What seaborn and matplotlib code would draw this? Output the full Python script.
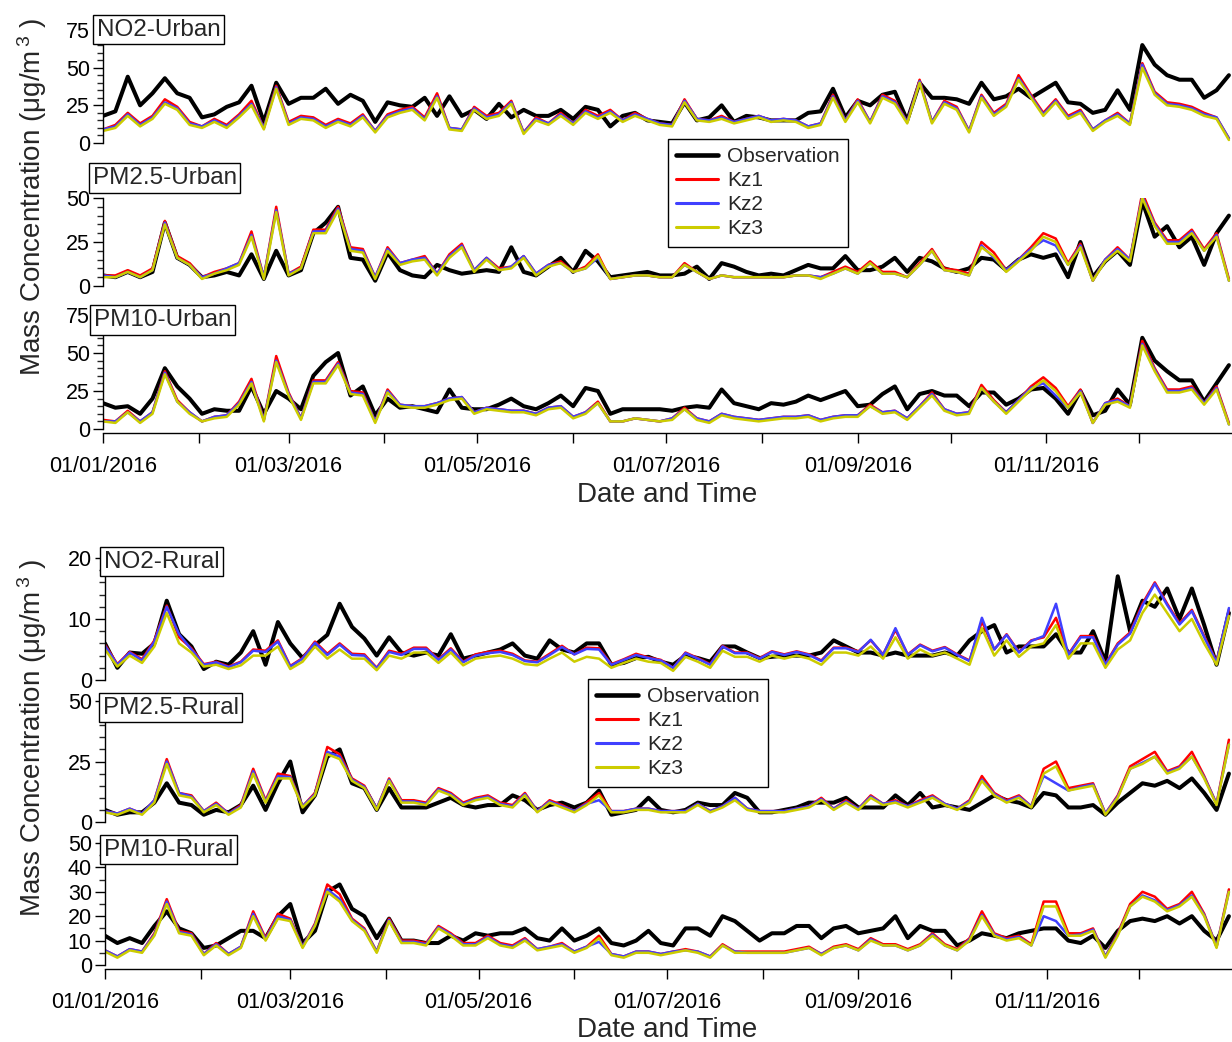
import numpy as np
import pandas as pd
import matplotlib
matplotlib.use("Agg")
import matplotlib.pyplot as plt
import matplotlib.dates as mdates
from matplotlib.ticker import MultipleLocator, FuncFormatter
from matplotlib.lines import Line2D
import seaborn as sns

# 4-daily samples, 01/01/2016 .. 30/12/2016
dates = pd.date_range("2016-01-01", periods=92, freq="4D")

series_names = ["Observation", "Kz1", "Kz2", "Kz3"]
series_colors = ["black", "#ff0000", "#4040ff", "#cccc00"]
series_widths = [2.9, 1.8, 1.8, 1.8]

# ---- Urban ----
no2_urban_obs = [18,21,44,25,33,43,33,30,17,19,24,27,38,14,40,26,30,30,36,26,32,28,14,27,25,24,30,18,31,18,22,16,26,17,22,18,18,22,16,24,22,11,18,20,15,14,
                 13,27,15,17,25,14,18,17,15,15,15,20,21,36,17,28,25,32,34,15,40,30,30,29,26,40,29,31,36,30,35,40,27,26,20,22,35,22,65,52,45,42,42,30,35,45]
no2_urban_kz1 = [9,12,20,13,18,29,24,14,11,16,12,19,28,10,38,14,18,17,12,16,13,19,8,19,22,24,17,33,10,9,24,18,20,28,7,17,13,20,13,22,18,22,15,20,16,13,
                 12,29,16,15,18,14,16,18,15,16,15,11,13,32,15,29,14,32,28,14,42,14,28,24,8,32,20,26,45,32,20,29,18,22,9,15,20,13,53,34,27,26,24,20,17,3]
no2_urban_kz2 = [9,11,19,12,17,27,23,13,11,15,11,18,26,10,37,13,17,16,11,15,12,18,8,18,21,23,16,31,10,9,23,17,19,27,7,16,13,19,13,21,17,21,15,19,16,13,
                 12,28,16,15,17,14,16,18,15,16,15,11,13,31,15,28,14,31,27,14,41,14,27,23,8,31,19,25,43,31,19,28,17,21,9,15,19,13,52,33,26,25,23,19,17,3]
no2_urban_kz3 = [8,10,18,11,16,26,22,12,10,14,10,17,25,9,36,12,16,15,10,14,11,17,7,17,20,22,15,30,9,8,22,16,18,26,6,15,12,18,12,20,16,20,14,18,15,12,
                 11,27,15,14,16,13,15,17,14,15,14,10,12,30,14,27,13,30,26,13,40,13,26,22,7,30,18,24,42,30,18,27,16,20,8,14,18,12,50,32,25,24,22,18,16,2]

pm25_urban_obs = [6,5,8,5,8,36,16,12,5,6,8,6,18,4,20,6,9,30,36,45,16,15,3,19,9,6,5,12,9,7,8,9,8,22,8,6,11,16,8,20,14,5,6,7,8,6,
                  6,7,11,4,13,11,8,6,7,6,9,12,10,10,17,9,9,11,16,8,16,14,10,8,10,16,15,9,15,18,16,18,5,25,5,14,20,12,48,28,34,22,28,12,30,40]
pm25_urban_kz1 = [6,6,9,6,10,37,17,13,5,8,10,13,31,5,45,7,11,32,32,45,22,21,5,22,13,15,17,7,18,24,9,16,10,11,17,7,12,14,8,11,18,4,5,6,6,5,
                  5,13,8,4,6,5,5,5,5,5,6,6,5,8,11,8,14,8,8,5,13,21,10,9,7,25,19,9,15,22,30,27,13,24,3,15,22,15,53,36,26,26,32,21,30,4]
pm25_urban_kz2 = [6,5,8,5,9,36,16,12,5,7,10,13,29,5,43,7,10,31,31,44,21,20,5,21,13,15,16,7,17,23,9,16,9,11,17,7,12,13,8,10,16,4,5,6,6,5,
                  5,12,8,4,6,5,5,5,5,5,6,6,5,7,10,7,13,7,7,5,12,20,9,8,6,23,16,9,15,21,26,23,12,23,3,15,21,15,51,35,25,25,31,20,29,3]
pm25_urban_kz3 = [5,5,8,5,9,35,16,12,4,7,9,12,28,4,42,6,10,30,30,43,20,19,4,20,12,14,15,6,16,22,8,15,9,10,16,6,11,13,8,10,17,4,5,6,6,5,
                  5,12,8,4,6,5,5,5,5,5,6,6,4,7,10,7,13,7,7,5,12,20,9,8,6,22,17,8,14,20,28,25,12,22,3,14,20,14,50,34,24,24,30,20,28,3]

pm10_urban_obs = [17,14,15,10,20,40,28,20,10,13,12,12,28,10,25,20,13,35,44,50,22,28,9,20,14,15,13,11,26,14,13,13,16,20,15,13,17,22,15,27,25,10,13,13,13,13,
                  12,14,15,14,26,17,15,13,17,16,18,22,19,22,25,15,16,23,28,13,23,25,22,22,15,24,24,16,20,26,27,20,10,25,9,12,26,16,60,45,38,32,32,18,30,42]
pm10_urban_kz1 = [6,5,12,5,11,38,19,11,5,8,9,18,33,6,48,24,7,32,32,44,25,24,5,26,16,15,15,17,20,21,11,14,13,12,12,10,14,15,8,11,18,5,5,7,6,5,
                  7,14,7,5,10,8,7,6,7,8,8,9,6,8,9,9,16,11,12,7,15,24,13,10,11,29,19,11,19,28,34,27,15,26,4,17,20,15,58,40,26,26,28,17,28,4]
pm10_urban_kz2 = [5,5,11,5,11,37,18,11,5,8,9,17,31,6,45,23,7,31,31,43,24,23,5,25,16,15,15,17,20,21,11,14,13,12,12,10,14,15,8,11,17,5,5,7,6,5,
                  7,13,7,5,10,8,7,6,7,8,8,9,6,8,9,9,15,11,12,7,15,23,13,10,11,27,18,11,19,27,30,22,14,25,4,17,19,15,56,39,25,25,27,17,27,3]
pm10_urban_kz3 = [5,4,11,4,10,36,18,10,5,7,8,16,30,5,44,22,6,30,30,42,23,22,4,24,15,14,14,16,19,20,10,13,12,11,11,9,13,14,7,10,17,5,5,7,6,5,
                  6,13,6,4,9,7,6,5,6,7,7,8,5,7,8,8,15,10,11,6,14,22,12,9,10,27,18,10,18,26,32,25,14,24,4,16,18,14,55,38,24,24,26,16,26,3]

# ---- Rural ----
no2_rural_obs = [6,2,4.5,4.3,6,13,7.5,5.5,1.8,3,2.5,4.5,8,2.5,9.5,6,3.6,5.7,7.4,12.5,8.7,6.8,4,7,4.5,4,4.5,4,7.5,3.5,4,4.5,5,6,4,3.5,6.5,5,4.5,6,6,2.5,2.8,3.6,3.8,3,
                 2.5,4,3.6,3,5.5,5.5,4.5,3.6,3.8,4,4,4,4.5,6.5,5.5,4.5,4.5,4,4.5,4,4,4,4.5,4,6.5,8,9,4.5,5.5,5.5,5.5,7.5,4.5,4.5,8,3,17,8,13,12,15,10,15,9,2.5,11]
no2_rural_kz1 = [5.8,2.6,4.6,3.4,6.5,12.2,7,5.2,2.6,3,2.2,3,5,4.8,6.5,2.3,3.6,6.3,4.3,6,4.3,4.2,2,4.8,4.3,5.3,5.3,3.4,5.2,3,4.2,4.6,4.8,4.3,3.2,3,4.3,5.6,4.2,5.3,5.2,2.6,3.4,4.3,3.7,3.3,
                 2,4.5,3.6,2.6,5.6,4.5,4.5,3.6,4.7,4.2,4.7,4.2,3.2,5.3,5.3,4.7,6.5,4.2,8.2,4.2,5.8,4.8,5.4,4.2,3.2,9.6,5,7.5,4.6,6.5,7,10.2,4.2,7.2,7.2,2.6,6,7.8,12.5,16,12.5,9.3,11.5,7.2,3,11.5]
no2_rural_kz2 = [5.6,2.5,4.5,3.2,6.3,12,7.5,5,2.5,2.9,2.1,2.9,4.8,4.6,6.3,2.2,3.5,6.1,4.1,5.8,4.1,4,1.9,4.6,4.1,5.1,5.1,3.3,5,2.9,4,4.4,4.6,4.1,3.1,2.9,4.1,5.4,4.2,5.1,5,2.5,3.3,4.1,3.6,3.2,
                 2,4.4,3.5,2.5,5.5,4.4,4.4,3.5,4.6,4.1,4.6,4.1,3.1,5.2,5.2,4.6,6.6,4.1,8.5,4.1,5.7,4.7,5.3,4.1,3.1,10.2,5,7.4,4.5,6.4,7.2,12.5,4.1,7,7,2.5,5.8,7.6,12.2,15.8,12.3,9.1,11.3,7,2.9,11.8]
no2_rural_kz3 = [5,2.2,4,2.8,5.5,11,6,4.5,2.2,2.5,1.8,2.4,4,4,5.5,1.8,3,5.5,3.5,5,3.5,3.5,1.6,4,3.5,4.5,4.5,2.8,4.5,2.4,3.5,3.8,4,3.5,2.6,2.4,3.5,4.5,3,3.8,3.5,2,2.8,3.5,3,2.8,
                 1.5,3.8,3,2,4.8,3.8,3.8,3,4,3.5,4,3.5,2.5,4.5,4.5,4,5.5,3.5,7,3.5,5,4,4.5,3.5,2.5,8.5,4,6.5,3.8,5.5,6,9,3.5,6,6,2,5,6.5,11,14,11,8,10,6,2.5,10.5]

pm25_rural_obs = [5,3,4,4,8,16,8,7,3,5,4,7,15,5,16,25,4,11,27,30,16,14,5,14,6,6,6,8,10,7,6,7,7,11,9,5,7,8,6,8,13,3,4,5,10,5,
                  4,5,8,7,7,12,10,4,4,5,6,8,8,8,10,6,6,6,11,7,12,6,7,6,5,8,11,9,8,6,12,11,6,6,7,3,8,12,16,15,17,14,18,12,5,20]
pm25_rural_kz1 = [4.5,3.5,5.5,3.5,9,26,12,11,4.5,8,3.5,7,22,9,20,19,6.5,12,31,28,18,15,5.5,18,9,9,8,14,12,8,10,11,8,7,12,4.5,9,7,4.5,8,12,4.5,4.5,5.5,5.5,4.5,
                  4.5,4.5,7.5,4.5,6.5,10,5.5,4.5,4.5,4.5,5.5,6.5,10,5.5,9,5.5,11,7.5,9,6.5,9,11,7.5,5.5,9,19,12,9,11,6.5,22,25,14,15,16,3.5,11,23,26,29,21,23,29,19,7.5,34]
pm25_rural_kz2 = [4.5,3.5,5.5,3.5,9,25,12,10.5,4.5,7.5,3.5,6.5,21,8.5,19,18.5,6.5,11.5,29,27,17.5,14.5,5.5,17.5,8.5,8.5,7.5,13.5,11.5,7.5,9.5,10.5,7.5,6.5,11.5,4.5,8.5,6.5,4.5,7.5,9,4.5,4.5,5.5,5.5,4.5,
                  4.5,4.5,7.5,4.5,6.5,10,5.5,4.5,4.5,4.5,5.5,6.5,9.5,5.5,8.5,5.5,10.5,7.5,8.5,6.5,8.5,10.5,7.5,5.5,8.5,17.5,11.5,8.5,10.5,6.5,19,16,13,14.5,15.5,3.5,10.5,22,24.5,27,20.5,22.5,27,18.5,7.5,32]
pm25_rural_kz3 = [4,3,5,3,8,24,11,10,4,7,3,6,20,8,18,18,6,11,28,26,17,14,5,17,8,8,7,13,11,7,9,10,7,6,11,4,8,6,4,7,11,4,4,5,5,4,
                  4,4,7,4,6,9,5,4,4,4,5,6,9,5,8,5,10,7,8,6,8,10,7,5,8,17,11,8,10,6,20,23,13,14,15,3,10,22,24,27,20,22,27,18,7,32]

pm10_rural_obs = [12,9,11,9,16,22,15,13,7,8,11,14,14,11,20,25,9,14,30,33,23,20,11,19,10,10,9,9,12,10,13,12,13,13,15,11,10,15,10,12,15,9,8,10,14,9,
                  8,15,15,12,20,18,14,10,13,13,16,16,11,15,16,13,14,15,20,11,16,14,14,8,10,13,12,11,13,14,15,15,10,9,12,7,14,18,19,18,20,17,20,14,10,20]
pm10_rural_kz1 = [6,3.5,6.5,5.5,13,27,14,13,4.5,9,4.5,7.5,22,11,21,19,7.5,17,33,29,19,15,5.5,19,10,10,9,16,13,9,9,12,9,8,11,6.5,7.5,9,5.5,7.5,12,4.5,3.5,5.5,5.5,4.5,
                  5.5,6.5,5.5,3.5,8.5,5.5,5.5,5.5,5.5,5.5,6.5,7.5,4.5,7.5,8.5,6.5,11,8.5,8.5,6.5,8.5,13,8.5,6.5,11,22,13,11,12,8.5,26,26,13,13,15,3.5,13,25,30,28,23,25,30,21,7.5,31]
pm10_rural_kz2 = [6,3.5,6.5,5.5,12.5,26,13.5,12.5,4.5,8.5,4.5,7.5,21,10.5,20,18.5,7.5,16.5,31,27,18.5,14.5,5.5,18.5,9.5,9.5,8.5,15.5,12.5,8.5,8.5,11.5,8.5,7.5,10.5,6.5,7.5,8.5,5.5,7.5,9.5,4.5,3.5,5.5,5.5,4.5,
                  5.5,6,5.5,3.5,8,5.5,5,5,5,5,6,7,4.5,7,8,6,10.5,8,8,6,8,12.5,8,6,10.5,20.5,12.5,10.5,11.5,8,20,18,12,12.5,14.5,3.5,12.5,24,28.5,26.5,22.5,24.5,28.5,20.5,7.5,30]
pm10_rural_kz3 = [5.5,3,6,5,12,25,13,12,4,8,4,7,20,10,19,18,7,16,30,26,18,14,5,18,9,9,8,15,12,8,8,11,8,7,10,6,7,8,5,7,11,4,3,5,5,4,
                  5,6,5,3,8,5,5,5,5,5,6,7,4,7,8,6,10,8,8,6,8,12,8,6,10,20,12,10,11,8,24,24,12,12,14,3,12,24,28,26,22,24,28,20,7,30]

panel_labels = ["NO2-Urban", "PM2.5-Urban", "PM10-Urban", "NO2-Rural", "PM2.5-Rural", "PM10-Rural"]
panel_data = [
    [no2_urban_obs, no2_urban_kz1, no2_urban_kz2, no2_urban_kz3],
    [pm25_urban_obs, pm25_urban_kz1, pm25_urban_kz2, pm25_urban_kz3],
    [pm10_urban_obs, pm10_urban_kz1, pm10_urban_kz2, pm10_urban_kz3],
    [no2_rural_obs, no2_rural_kz1, no2_rural_kz2, no2_rural_kz3],
    [pm25_rural_obs, pm25_rural_kz1, pm25_rural_kz2, pm25_rural_kz3],
    [pm10_rural_obs, pm10_rural_kz1, pm10_rural_kz2, pm10_rural_kz3],
]
panel_ymax = [75, 50, 75, 20, 50, 50]
panel_major = [25, 25, 25, 10, 25, 10]
panel_minor = [5, 5, 5, 2, 5, 5]

# layout in pixels: (axis x, y of top value, y of zero)
W, H = 1232, 1042
panel_pos = [(103, 30, 143), (103, 198, 286), (103, 315, 429),
             (105, 558, 680), (105, 701, 822), (105, 843, 965)]
box_pos = [(93, 29.5), (89, 178), (90, 320), (100, 561.5), (99, 707.5), (100, 849.5)]

sns.set_style("ticks")
plt.rcParams["font.family"] = ["Liberation Sans", "DejaVu Sans"]
plt.rcParams["mathtext.fontset"] = "custom"
plt.rcParams["mathtext.rm"] = "Liberation Sans"
plt.rcParams["mathtext.default"] = "regular"

fig = plt.figure(figsize=(W / 100, H / 100), dpi=100)


def month_label(v, pos):
    d = mdates.num2date(v)
    return d.strftime("%d/%m/%Y") if d.month % 2 == 1 else ""


for i in range(6):
    x0, ytop, ybot = panel_pos[i]
    ax = fig.add_axes([x0 / W, 1 - ybot / H, (W - x0) / W, (ybot - ytop) / H])
    ax.patch.set_alpha(0)
    for vals, c, lw in zip(panel_data[i], series_colors, series_widths):
        sns.lineplot(x=dates, y=vals, ax=ax, color=c, linewidth=lw, legend=False)
    ax.set_xlim(pd.Timestamp("2016-01-01"), pd.Timestamp("2016-12-31"))
    ax.set_ylim(0, panel_ymax[i])
    ax.set_xlabel("")
    ax.set_ylabel("")
    ax.yaxis.set_major_locator(MultipleLocator(panel_major[i]))
    ax.yaxis.set_minor_locator(MultipleLocator(panel_minor[i]))
    ax.tick_params(axis="y", which="major", direction="out", length=7.5, width=1.0,
                   labelsize=15.5, pad=2, colors="black")
    ax.tick_params(axis="y", which="minor", direction="out", length=4, width=1.0)
    for s in ["top", "right"]:
        ax.spines[s].set_visible(False)
    ax.spines["left"].set_linewidth(1.0)
    ax.spines["left"].set_color("black")
    if i in (2, 5):
        ax.spines["bottom"].set_position(("outward", 3))
        ax.spines["bottom"].set_linewidth(1.0)
        ax.spines["bottom"].set_color("black")
        ax.xaxis.set_major_locator(mdates.MonthLocator())
        ax.xaxis.set_major_formatter(FuncFormatter(month_label))
        ax.tick_params(axis="x", which="major", direction="out", length=7.5, width=1.0,
                       labelsize=15.5, pad=9, colors="black")
        ax.tick_params(axis="x", which="minor", bottom=False)
    else:
        ax.spines["bottom"].set_visible(False)
        ax.tick_params(axis="x", which="both", bottom=False, labelbottom=False)

    bx, by = box_pos[i]
    fig.text((bx + 3.6) / W, 1 - by / H, panel_labels[i], fontsize=17.5, ha="left", va="center",
             bbox=dict(boxstyle="square,pad=0.15", fc="white", ec="black", lw=1.0))

# axis titles
for yc in (197, 738):
    fig.text(32 / W, 1 - yc / H, "Mass Concentration (μg/m$^{\\,3}$ )", rotation=90,
             ha="center", va="center", fontsize=20)
for yc in (495, 1030):
    fig.text(667 / W, 1 - yc / H, "Date and Time", ha="center", va="center", fontsize=20)

# legends
handles = [Line2D([], [], color=c, lw=w + 0.4) for c, w in zip(series_colors, series_widths)]
for lx, ly in ((668, 139), (588, 679)):
    leg = fig.legend(handles, series_names, loc="upper left", bbox_to_anchor=(lx / W, 1 - ly / H),
                     fontsize=15, frameon=True, fancybox=False, edgecolor="black", framealpha=1,
                     borderpad=0.4, labelspacing=0.24, handlelength=2.0, handletextpad=0.45,
                     borderaxespad=0)
    leg.get_frame().set_linewidth(1.0)

fig.savefig("out.png", dpi=100)
